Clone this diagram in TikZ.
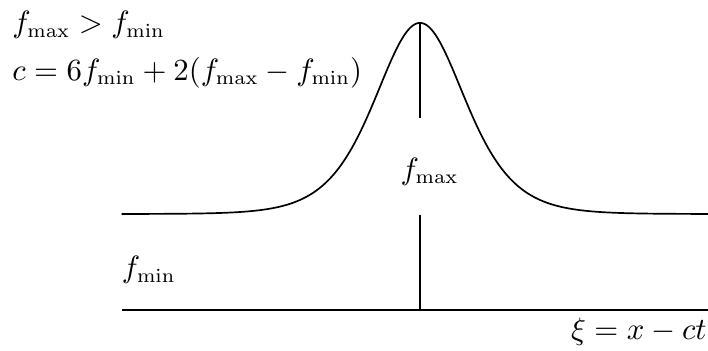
\documentclass[tikz,border=0pt]{standalone}
\usepackage{amsmath}
\usepackage{amssymb}
\usepackage{tikz}

\begin{document}
\begin{tikzpicture}[every node/.style={font=\fontsize{10.6pt}{13pt}\selectfont}]
                \useasboundingbox (0,0) rectangle (8.85,4.375);

                % Nodes
                \node[anchor=west] (order) at (0.03,4.06) {$f_{\max} > f_{\min}$};
                \node[anchor=west] (speed) at (0.03,3.47) {$c = 6f_{\min} + 2(f_{\max} - f_{\min})$};
                \node (fmax) at (5.37,2.23) {$f_{\max}$};
                \node[anchor=west] (fmin) at (1.4,1.0) {$f_{\min}$};
                \node[anchor=east, inner sep=0pt] (xi) at (8.84,0.23) {$\xi = x - ct$};

                \coordinate (peak) at (5.25,4.09);
                \coordinate (top) at (5.25,2.9);
                \coordinate (low) at (5.25,1.69);
                \coordinate (base) at (5.25,0.5);
                \coordinate (axisL) at (1.52,0.5);
                \coordinate (axisR) at (8.85,0.5);

                % Edges
                \draw[line width=0.6pt] (axisL)--(axisR);
                \draw[line width=0.6pt, domain=1.52:8.85, samples=140, smooth]
                    plot (\x, {1.7 + 2.39/(cosh(1.32*(\x-5.25)))^2});
                \draw (peak)--(top);
                \draw (low)--(base);
            \end{tikzpicture}
\end{document}
